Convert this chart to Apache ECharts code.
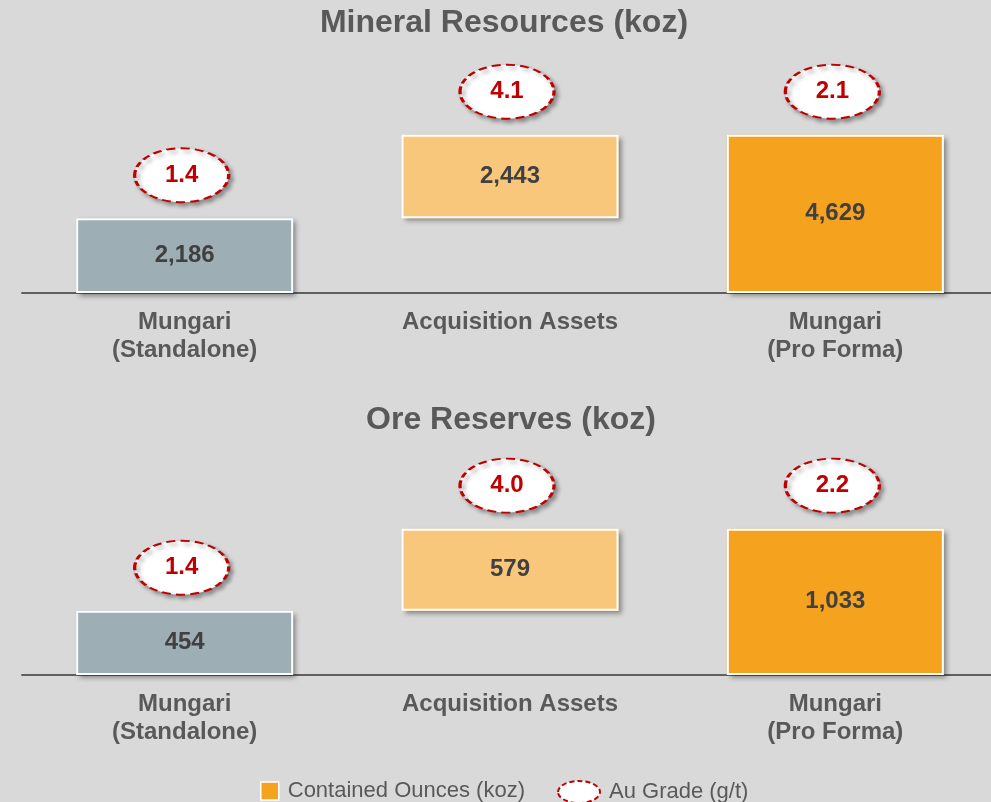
<!DOCTYPE html>
<html>
<head>
<meta charset="utf-8">
<title>Mineral Resources and Ore Reserves</title>
<script src="https://cdn.jsdelivr.net/npm/echarts@6/dist/echarts.min.js"></script>
<style>
    html, body { margin: 0; padding: 0; background: #d9d9d9; }
    #chart { width: 991px; height: 802px; }
</style>
</head>
<body>
<div id="chart"></div>
<script>
const categories = ['Mungari\n(Standalone)', 'Acquisition Assets', 'Mungari\n(Pro Forma)'];
const resourceKoz = [2186, 2443, 4629];
const resourceGrade = [1.4, 4.1, 2.1];
const reserveKoz = [454, 579, 1033];
const reserveGrade = [1.4, 4.0, 2.2];

const barColors = ['#9daeb4', '#f9c77b', '#f5a31f'];
const font = '"Liberation Sans", Arial, sans-serif';
const ellipse = 'path://M0,27A47,27,0,1,1,94,27A47,27,0,1,1,0,27Z';
const legendEllipse = 'path://M0,11A21,11,0,1,1,42,11A21,11,0,1,1,0,11Z';

// waterfall: middle bar floats on top of the first one
function bases(values) {
    return [0, values[0], 0];
}
function tops(values) {
    let b = bases(values);
    let out = [];
    for (let i = 0; i < values.length; i++) {
        out.push(b[i] + values[i]);
    }
    return out;
}

function barSeries(values, idx, stack) {
    let data = [];
    let frames = [];
    for (let i = 0; i < values.length; i++) {
        data.push({ value: values[i], itemStyle: { color: barColors[i] } });
        frames.push(values[i]);
    }
    let common = {
        type: 'bar',
        xAxisIndex: idx,
        yAxisIndex: idx,
        barWidth: 217,
        barGap: '-100%'
    };
    return [
        Object.assign({}, common, {
            name: 'base',
            stack: stack,
            silent: true,
            itemStyle: { color: 'transparent' },
            data: bases(values)
        }),
        // filled bars with drop shadow
        Object.assign({}, common, {
            name: 'Contained Ounces (koz)',
            stack: stack,
            itemStyle: {
                shadowColor: 'rgba(0,0,0,0.4)',
                shadowBlur: 5,
                shadowOffsetX: 3,
                shadowOffsetY: 3
            },
            data: data
        }),
        // white frame + value label on top, no shadow so it does not darken the fill
        Object.assign({}, common, {
            name: 'frame',
            stack: stack + 'F',
            silent: true,
            itemStyle: { color: 'transparent' },
            data: bases(values)
        }),
        Object.assign({}, common, {
            name: 'frame',
            stack: stack + 'F',
            silent: true,
            itemStyle: { color: 'transparent', borderColor: '#ffffff', borderWidth: 2 },
            label: {
                show: true,
                position: 'inside',
                color: '#404040',
                fontFamily: font,
                fontWeight: 'bold',
                fontSize: 24,
                formatter: function (p) {
                    return p.value.toLocaleString('en-US');
                }
            },
            data: frames
        })
    ];
}

function gradeSeries(values, grades, idx) {
    let t = tops(values);
    let data = [];
    for (let i = 0; i < t.length; i++) {
        data.push({ value: t[i], grade: grades[i] });
    }
    return {
        type: 'scatter',
        name: 'Au Grade (g/t)',
        xAxisIndex: idx,
        yAxisIndex: idx,
        clip: false,
        symbol: ellipse,
        symbolSize: [94, 54],
        symbolOffset: [-3, -43],
        z: 5,
        itemStyle: {
            color: '#ffffff',
            opacity: 1,
            borderColor: '#c00000',
            borderWidth: 2.5,
            borderType: [7, 4],
            shadowColor: 'rgba(0,0,0,0.35)',
            shadowBlur: 4,
            shadowOffsetX: 3,
            shadowOffsetY: 3
        },
        label: {
            show: true,
            position: 'inside',
            color: '#c00000',
            fontFamily: font,
            fontWeight: 'bold',
            fontSize: 24,
            formatter: function (p) {
                return p.data.grade.toFixed(1);
            }
        },
        data: data
    };
}

function xAxis(idx) {
    return {
        type: 'category',
        gridIndex: idx,
        data: categories,
        axisLine: { lineStyle: { color: '#5f5f5f', width: 2 } },
        axisTick: { show: false },
        axisLabel: {
            color: '#595959',
            fontFamily: font,
            fontWeight: 'bold',
            fontSize: 24,
            lineHeight: 28,
            margin: 15
        }
    };
}

function yAxis(idx, max) {
    return {
        type: 'value',
        gridIndex: idx,
        min: 0,
        max: max,
        show: false,
        splitLine: { show: false }
    };
}

const chart = echarts.init(document.getElementById('chart'));
const option = {
    backgroundColor: '#d9d9d9',
    animation: false,
    graphic: [
        {
            type: 'text',
            x: 504,
            y: 23,
            style: {
                text: 'Mineral Resources (koz)',
                font: 'bold 32px ' + font,
                fill: '#595959',
                textAlign: 'center',
                textVerticalAlign: 'middle'
            }
        },
        {
            type: 'text',
            x: 511,
            y: 420,
            style: {
                text: 'Ore Reserves (koz)',
                font: 'bold 32px ' + font,
                fill: '#595959',
                textAlign: 'center',
                textVerticalAlign: 'middle'
            }
        }
    ],
    grid: [
        { left: 22, width: 976, top: 122, height: 171, outerBoundsMode: 'none', containLabel: false },
        { left: 22, width: 976, top: 505, height: 170, outerBoundsMode: 'none', containLabel: false }
    ],
    xAxis: [xAxis(0), xAxis(1)],
    yAxis: [yAxis(0, 5000), yAxis(1, 1200)],
    legend: [
        {
            left: 255,
            top: 775,
            itemWidth: 18,
            itemHeight: 18,
            selectedMode: false,
            textStyle: { color: '#595959', fontFamily: font, fontSize: 22, padding: [0, 0, 0, 4] },
            data: [{
                name: 'Contained Ounces (koz)',
                icon: 'rect',
                itemStyle: { color: '#f5a31f', borderColor: '#ffffff', borderWidth: 1.5 }
            }]
        },
        {
            left: 552,
            top: 775,
            itemWidth: 42,
            itemHeight: 22,
            selectedMode: false,
            textStyle: { color: '#595959', fontFamily: font, fontSize: 22, padding: [0, 0, 0, 4] },
            data: [{
                name: 'Au Grade (g/t)',
                icon: legendEllipse,
                itemStyle: {
                    color: '#ffffff',
                    borderColor: '#c00000',
                    borderWidth: 2,
                    borderType: [5, 3],
                    shadowBlur: 0,
                    shadowOffsetX: 0,
                    shadowOffsetY: 0
                }
            }]
        }
    ],
    series: [].concat(
        barSeries(resourceKoz, 0, 'res'),
        [gradeSeries(resourceKoz, resourceGrade, 0)],
        barSeries(reserveKoz, 1, 'rsv'),
        [gradeSeries(reserveKoz, reserveGrade, 1)]
    )
};
chart.setOption(option);
</script>
</body>
</html>
